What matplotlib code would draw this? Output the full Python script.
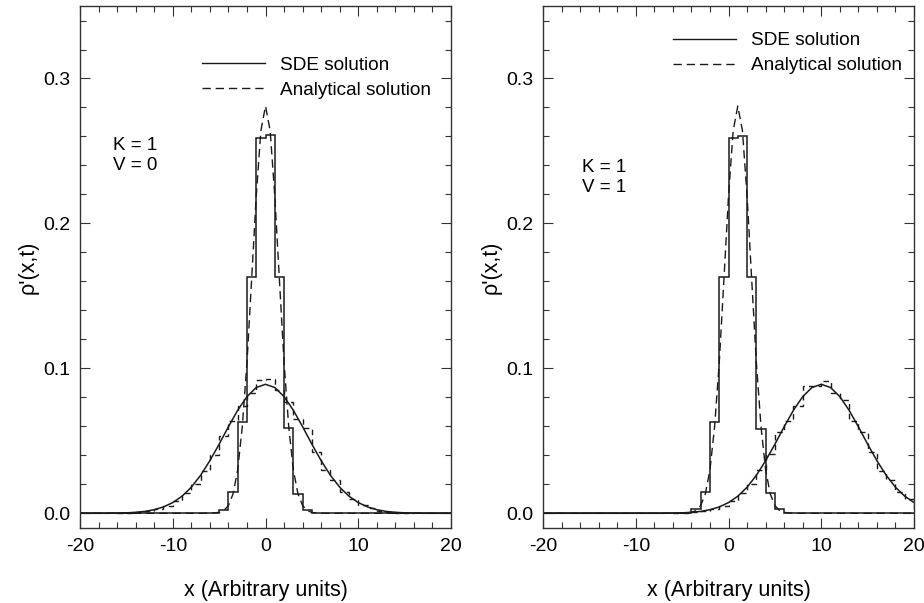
import matplotlib
matplotlib.use("Agg")
import matplotlib.pyplot as plt
from matplotlib.lines import Line2D
from matplotlib.ticker import MultipleLocator

plt.rcParams['font.family'] = ['Liberation Sans', 'DejaVu Sans']
plt.rcParams['axes.unicode_minus'] = False

# ---- left panel (K = 1, V = 0) ----
# narrow histogram (SDE, early time)
left_narrow_edges = [-20, -5, -4, -3, -2, -1, 0, 1, 2, 3, 4, 5, 20]
left_narrow_hist = [0, 0.002, 0.0145, 0.063, 0.163, 0.259, 0.261, 0.163, 0.059, 0.013, 0.002, 0]
# narrow analytical curve
left_narrow_x = [-20, -6, -5, -4.5, -4, -3.5, -3, -2.5, -2, -1.5, -1, -0.5, 0,
                 0.5, 1, 1.5, 2, 2.5, 3, 3.5, 4, 4.5, 5, 6, 20]
left_narrow_y = [0, 0, 0.0006, 0.0019, 0.0053, 0.0134, 0.030, 0.060, 0.104, 0.161, 0.219, 0.264, 0.281,
                 0.264, 0.219, 0.161, 0.104, 0.060, 0.030, 0.0134, 0.0053, 0.0019, 0.0006, 0, 0]
# wide histogram (SDE, later time)
left_wide_edges = list(range(-16, 17))
left_wide_hist = [0.0002, 0.0004, 0.0009, 0.0017, 0.0030, 0.0050, 0.0088, 0.0140, 0.0200, 0.0290,
                  0.0400, 0.0530, 0.0640, 0.0740, 0.0830, 0.0920, 0.0925, 0.0850, 0.0770, 0.0650,
                  0.0590, 0.0420, 0.0300, 0.0230, 0.0150, 0.0100, 0.0060, 0.0035, 0.0018, 0.0010,
                  0.0005, 0.0002]
# wide analytical curve
left_wide_x = list(range(-20, 21))
left_wide_y = [0, 0, 0, 0, 0.0001, 0.0003, 0.0007, 0.0013, 0.0025, 0.0044, 0.0074, 0.0118, 0.0180,
               0.0262, 0.0363, 0.0477, 0.0597, 0.0711, 0.0805, 0.0868, 0.0890, 0.0868, 0.0805,
               0.0711, 0.0597, 0.0477, 0.0363, 0.0262, 0.0180, 0.0118, 0.0074, 0.0044, 0.0025,
               0.0013, 0.0007, 0.0003, 0.0001, 0, 0, 0, 0]

# ---- right panel (K = 1, V = 1) ----
right_narrow_edges = [-20, -4, -3, -2, -1, 0, 1, 2, 3, 4, 5, 6, 20]
right_narrow_hist = [0, 0.003, 0.015, 0.063, 0.163, 0.259, 0.260, 0.163, 0.058, 0.014, 0.003, 0]
right_narrow_x = [-20, -5, -4, -3.5, -3, -2.5, -2, -1.5, -1, -0.5, 0, 0.5, 1,
                  1.5, 2, 2.5, 3, 3.5, 4, 4.5, 5, 5.5, 6, 7, 20]
right_narrow_y = [0, 0, 0.0006, 0.0019, 0.0053, 0.0134, 0.030, 0.060, 0.104, 0.161, 0.219, 0.264, 0.281,
                  0.264, 0.219, 0.161, 0.104, 0.060, 0.030, 0.0134, 0.0053, 0.0019, 0.0006, 0, 0]
right_wide_edges = list(range(-6, 21))
right_wide_hist = [0.0002, 0.0004, 0.0009, 0.0017, 0.0030, 0.0052, 0.0085, 0.0140, 0.0205, 0.0300,
                   0.0410, 0.0560, 0.0640, 0.0740, 0.0880, 0.0880, 0.0910, 0.0830, 0.0780, 0.0640,
                   0.0560, 0.0420, 0.0290, 0.0230, 0.0150, 0.0100]
right_wide_x = list(range(-20, 21))
right_wide_y = [0, 0, 0, 0, 0, 0, 0, 0, 0, 0, 0, 0, 0, 0, 0.0001, 0.0003, 0.0007, 0.0013, 0.0025,
                0.0044, 0.0074, 0.0118, 0.0180, 0.0262, 0.0363, 0.0477, 0.0597, 0.0711, 0.0805,
                0.0868, 0.0890, 0.0868, 0.0805, 0.0711, 0.0597, 0.0477, 0.0363, 0.0262, 0.0180,
                0.0118, 0.0074]

panels = [
    dict(narrow_edges=left_narrow_edges, narrow_hist=left_narrow_hist,
         narrow_x=left_narrow_x, narrow_y=left_narrow_y,
         wide_edges=left_wide_edges, wide_hist=left_wide_hist,
         wide_x=left_wide_x, wide_y=left_wide_y,
         note="K = 1\nV = 0", note_xy=(0.089, 0.75), leg_xy=(0.33, 0.903),
         rect=[0.0866, 0.124, 0.4015, 0.866]),
    dict(narrow_edges=right_narrow_edges, narrow_hist=right_narrow_hist,
         narrow_x=right_narrow_x, narrow_y=right_narrow_y,
         wide_edges=right_wide_edges, wide_hist=right_wide_hist,
         wide_x=right_wide_x, wide_y=right_wide_y,
         note="K = 1\nV = 1", note_xy=(0.105, 0.708), leg_xy=(0.35, 0.95),
         rect=[0.5877, 0.124, 0.4015, 0.866]),
]

ink = '#1a1a1a'
dash = (0, (6, 3.5))

fig = plt.figure(figsize=(9.24, 6.03), dpi=100)

for p in panels:
    ax = fig.add_axes(p['rect'])
    ax.stairs(p['narrow_hist'], p['narrow_edges'], color=ink, lw=1.1)
    ax.plot(p['narrow_x'], p['narrow_y'], color=ink, lw=1.0, linestyle=dash)
    ax.stairs(p['wide_hist'], p['wide_edges'], color=ink, lw=1.0, linestyle=(0, (4, 3)))
    ax.plot(p['wide_x'], p['wide_y'], color=ink, lw=1.1)

    ax.set_xlim(-20, 20)
    ax.set_ylim(-0.0103, 0.35)
    ax.xaxis.set_major_locator(MultipleLocator(10))
    ax.xaxis.set_minor_locator(MultipleLocator(2))
    ax.yaxis.set_major_locator(MultipleLocator(0.1))
    ax.yaxis.set_minor_locator(MultipleLocator(0.02))
    ax.yaxis.set_major_formatter(matplotlib.ticker.FormatStrFormatter('%.1f'))
    ax.tick_params(which='both', direction='in', top=True, right=True, color='#333333')
    ax.tick_params(which='major', length=7, width=0.8, labelsize=14, pad=7)
    ax.tick_params(which='minor', length=4, width=0.8)
    for s in ax.spines.values():
        s.set_linewidth(1.0)
        s.set_color('#333333')

    ax.set_xlabel('x (Arbitrary units)', fontsize=15.5, labelpad=18)
    ax.set_ylabel("ρ'(x,t)", fontsize=15.5, labelpad=3)

    ax.text(p['note_xy'][0], p['note_xy'][1], p['note'], transform=ax.transAxes,
            fontsize=13.5, va='top', ha='left', linespacing=1.3)

    handles = [Line2D([], [], color=ink, lw=1.0),
               Line2D([], [], color=ink, lw=1.0, linestyle=dash)]
    ax.legend(handles, ['SDE solution', 'Analytical solution'], loc='upper left',
              bbox_to_anchor=p['leg_xy'], frameon=False, fontsize=13.7,
              handlelength=3.3, handletextpad=0.8, labelspacing=0.4,
              borderpad=0, borderaxespad=0)

fig.savefig('out.png', dpi=100)
